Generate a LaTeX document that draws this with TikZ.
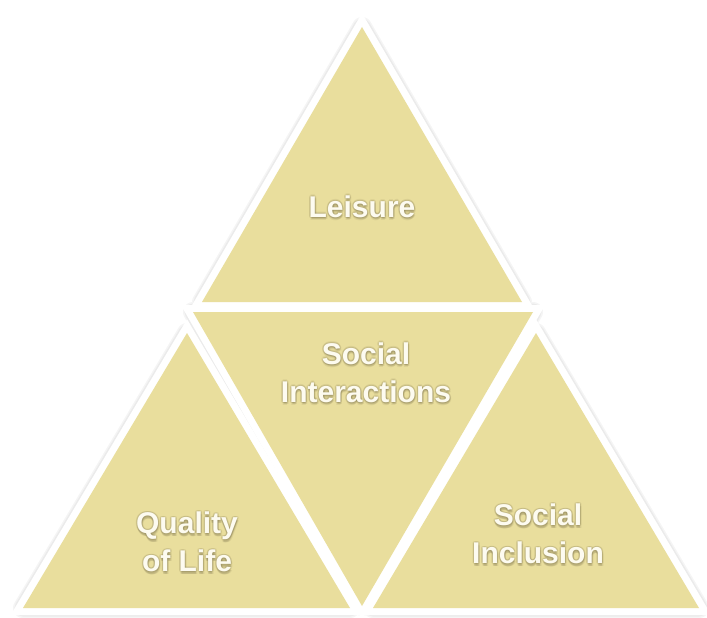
\documentclass[tikz,border=0pt]{standalone}
\usepackage{fontspec}
\setmainfont{Liberation Sans}
\definecolor{trifill}{HTML}{E9DE9D}
\definecolor{txtcol}{HTML}{FDFBF0}
\definecolor{glowcol}{HTML}{6B6240}
\tikzset{
  shadowA/.style={draw=black!4, line width=20pt, line join=round},
  shadowB/.style={draw=black!8, line width=17pt, line join=round},
  whiteline/.style={draw=white, line width=14pt, line join=miter},
  tribody/.style={fill=trifill},
  lbl/.style={text=txtcol, font=\fontsize{30}{38}\selectfont\bfseries, align=center, inner sep=0pt},
  lblglow/.style={lbl, text=glowcol, opacity=0.10},
}
\newcommand\glowlabel[4]{% #1 position, #2 name, #3 anchor, #4 text
  \foreach \dx/\dy in {1.5/0,-1.5/0,0/1.5,0/-1.5,1/-1,-1/-1,1/1,-1/1,0.5/-2.5,1.5/-2.5,0/-3}{
    \node[lblglow, anchor=#3, xshift=\dx pt, yshift=\dy pt] at (#1) {#4};
  }
  \node[lbl, anchor=#3] (#2) at (#1) {#4};
}
\begin{document}
\begin{tikzpicture}[x=1pt,y=-1pt]
\useasboundingbox (0,0) rectangle (707,618);
% corners of the four triangles
\coordinate (ta) at (362,27);
\coordinate (tl) at (202,302);
\coordinate (tr) at (522,302);
\coordinate (ml) at (193,312);
\coordinate (mr) at (533,312);
\coordinate (mb) at (362,606);
\coordinate (la) at (187,333);
\coordinate (ll) at (23,608);
\coordinate (lr) at (350,608);
\coordinate (ra) at (536,333);
\coordinate (rl) at (373,608);
\coordinate (rr) at (699,608);
% shadows
\foreach \s in {shadowA,shadowB}{
  \draw[\s] (ta) -- (tl) -- (tr) -- cycle;
  \draw[\s] (ml) -- (mr) -- (mb) -- cycle;
  \draw[\s] (la) -- (ll) -- (lr) -- cycle;
  \draw[\s] (ra) -- (rl) -- (rr) -- cycle;
}
% white borders
\draw[whiteline] (ta) -- (tl) -- (tr) -- cycle;
\draw[whiteline] (ml) -- (mr) -- (mb) -- cycle;
\draw[whiteline] (la) -- (ll) -- (lr) -- cycle;
\draw[whiteline] (ra) -- (rl) -- (rr) -- cycle;
% bodies
\fill[tribody] (ta) -- (tl) -- (tr) -- cycle;
\fill[tribody] (ml) -- (mr) -- (mb) -- cycle;
\fill[tribody] (la) -- (ll) -- (lr) -- cycle;
\fill[tribody] (ra) -- (rl) -- (rr) -- cycle;
% labels
\coordinate (pLeis) at (362,217);
\coordinate (pSoc) at (366,372.5);
\coordinate (pQual) at (187,542);
\coordinate (pIncl) at (538,534);
\glowlabel{pLeis}{leisure}{base}{Leisure}
\glowlabel{pSoc}{social}{center}{Social\\Interactions}
\glowlabel{pQual}{quality}{center}{Quality\\of Life}
\glowlabel{pIncl}{inclusion}{center}{Social\\Inclusion}
\end{tikzpicture}
\end{document}
